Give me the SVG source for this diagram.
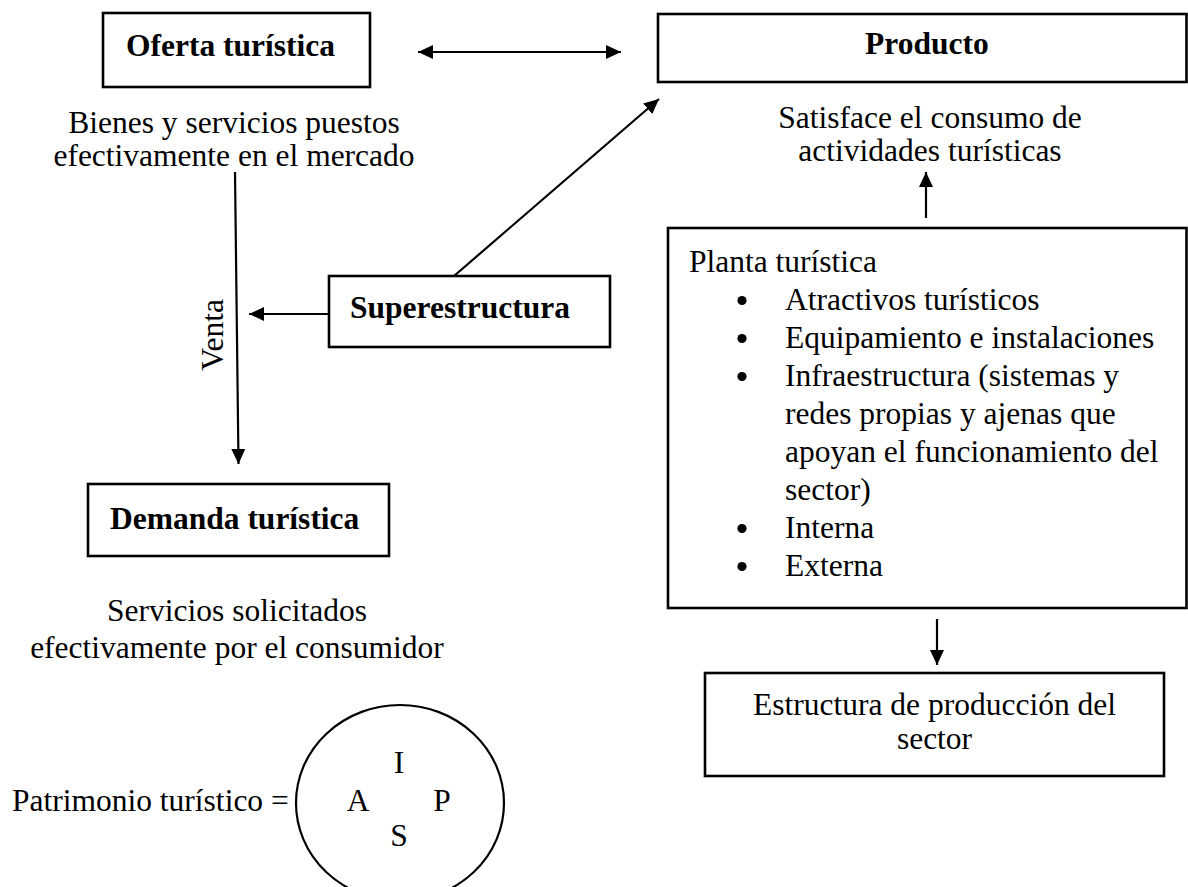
<svg xmlns="http://www.w3.org/2000/svg" width="1188" height="887" viewBox="0 0 1188 887">
<style>
text{font-family:"Liberation Serif","Times New Roman",serif;font-size:31.5px;fill:#000}
.b{font-weight:bold}
.m{text-anchor:middle}
.box{fill:none;stroke:#000;stroke-width:2.6}
.ln{fill:none;stroke:#000;stroke-width:2.2}
</style>
<defs>
<marker id="ah" markerUnits="userSpaceOnUse" markerWidth="16" markerHeight="14" refX="15" refY="7" orient="auto-start-reverse">
<path d="M0,0 L15,7 L0,14 z" fill="#000"/>
</marker>
</defs>
<rect width="1188" height="887" fill="#fff"/>
<g id="oferta">
<rect class="box" x="103" y="13" width="267" height="74"/>
<text class="b" x="126" y="56">Oferta turística</text>
<text class="m" x="234" y="133">Bienes y servicios puestos</text>
<text class="m" x="234" y="166">efectivamente en el mercado</text>
</g>
<g id="producto">
<rect class="box" x="658" y="14" width="528.5" height="68"/>
<text class="b" x="865" y="54">Producto</text>
<text class="m" x="930" y="128">Satisface el consumo de</text>
<text class="m" x="930" y="161">actividades turísticas</text>
</g>
<g id="superestructura">
<rect class="box" x="329" y="276" width="281" height="71"/>
<text class="b" x="350" y="318">Superestructura</text>
</g>
<g id="demanda">
<rect class="box" x="88" y="484" width="301" height="72"/>
<text class="b" x="110" y="529">Demanda turística</text>
<text class="m" x="237" y="621">Servicios solicitados</text>
<text class="m" x="237" y="658">efectivamente por el consumidor</text>
</g>
<g id="planta">
<rect class="box" x="668" y="228" width="518.5" height="380"/>
<text x="689" y="272">Planta turística</text>
<circle cx="742" cy="300.5" r="4.6"/>
<text x="785" y="310">Atractivos turísticos</text>
<circle cx="742" cy="338.5" r="4.6"/>
<text x="785" y="348">Equipamiento e instalaciones</text>
<circle cx="742" cy="376.5" r="4.6"/>
<text x="785" y="386">Infraestructura (sistemas y</text>
<text x="785" y="424">redes propias y ajenas que</text>
<text x="785" y="462">apoyan el funcionamiento del</text>
<text x="785" y="500">sector)</text>
<circle cx="742" cy="528.5" r="4.6"/>
<text x="785" y="538">Interna</text>
<circle cx="742" cy="566.5" r="4.6"/>
<text x="785" y="576">Externa</text>
</g>
<g id="estructura">
<rect class="box" x="705" y="673" width="459" height="103"/>
<text class="m" x="934.5" y="715">Estructura de producción del</text>
<text class="m" x="934.5" y="749">sector</text>
</g>
<g id="patrimonio">
<text x="12" y="811">Patrimonio turístico =</text>
<ellipse class="ln" cx="400" cy="803" rx="104" ry="98"/>
<text class="m" x="399" y="773">I</text>
<text class="m" x="358" y="811">A</text>
<text class="m" x="442" y="811">P</text>
<text class="m" x="399" y="846">S</text>
</g>
<g id="connectors">
<line class="ln" x1="418" y1="52" x2="621" y2="52" marker-start="url(#ah)" marker-end="url(#ah)"/>
<line class="ln" x1="235" y1="172" x2="238.5" y2="464" marker-end="url(#ah)"/>
<text transform="translate(223,335) rotate(-90)" class="m" x="0" y="0">Venta</text>
<line class="ln" x1="329" y1="314" x2="249" y2="314" marker-end="url(#ah)"/>
<line class="ln" x1="454" y1="276" x2="659" y2="99" marker-end="url(#ah)"/>
<line class="ln" x1="926" y1="218" x2="926" y2="172" marker-end="url(#ah)"/>
<line class="ln" x1="937" y1="619" x2="937" y2="665" marker-end="url(#ah)"/>
</g>
</svg>
